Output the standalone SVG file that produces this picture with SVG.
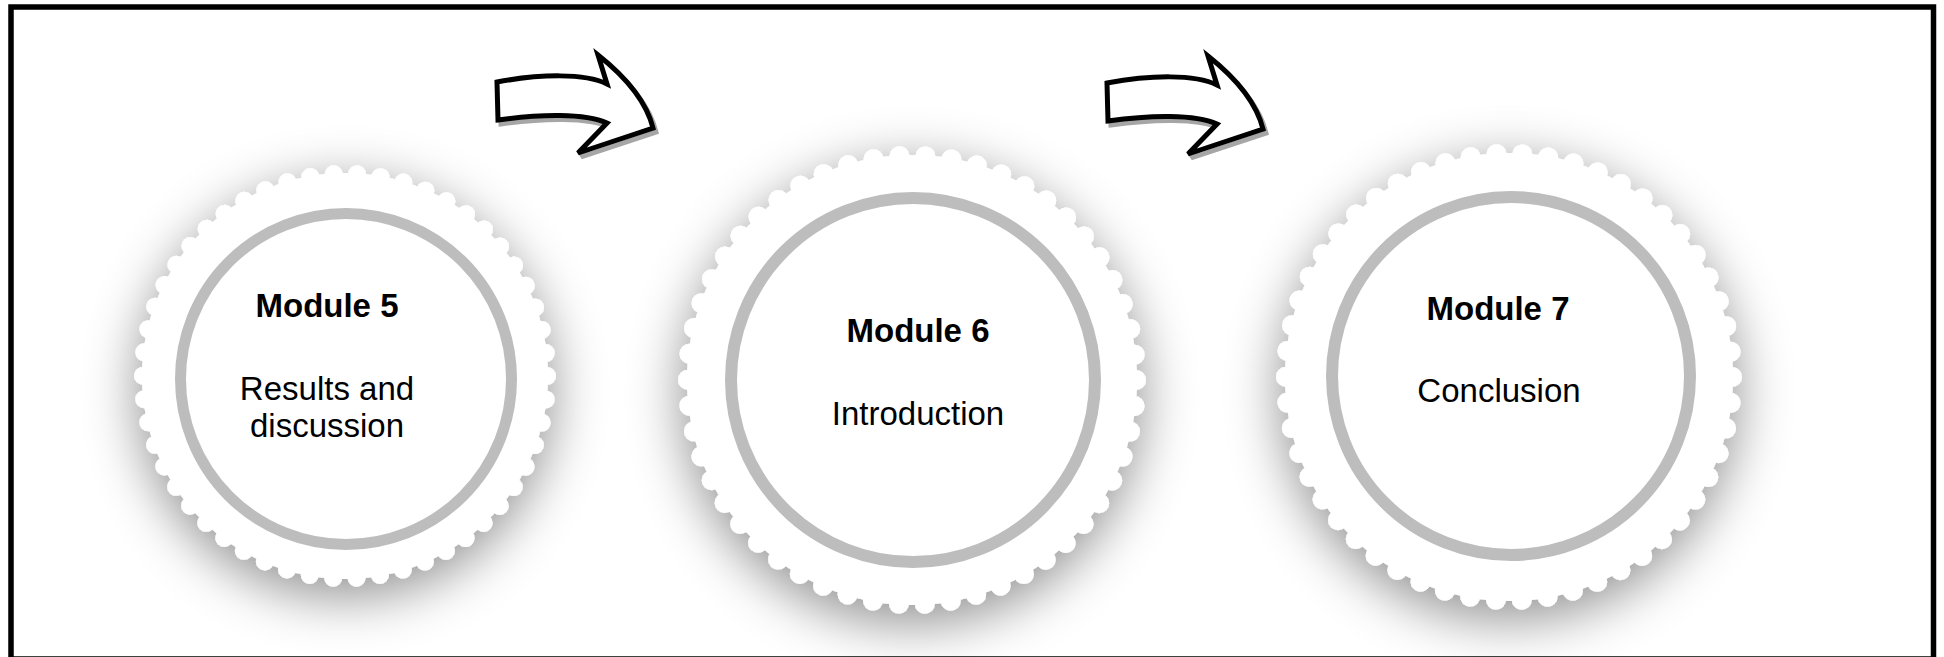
<svg xmlns="http://www.w3.org/2000/svg" width="1944" height="657" viewBox="0 0 1944 657">
<style>
.gear{fill:#ffffff}
.dots{fill:none;stroke:#ffffff;stroke-linecap:round}
.ring{fill:#ffffff;stroke:#bdbdbd}
.title{font-family:"Liberation Sans",Arial,sans-serif;font-size:33px;font-weight:bold;fill:#000;text-anchor:middle}
.label{font-family:"Liberation Sans",Arial,sans-serif;font-size:33px;fill:#000;text-anchor:middle}
.arrow{fill:#ffffff;stroke:#000;stroke-width:5;stroke-linejoin:miter}
.arrowsh{fill:none;stroke:#a6a6a6;stroke-width:5}
</style>
<defs>
<filter id="sh" x="-50%" y="-50%" width="200%" height="200%">
<feGaussianBlur in="SourceAlpha" stdDeviation="26"/>
<feOffset dx="0" dy="14" result="b"/>
<feFlood flood-color="#000" flood-opacity="0.42"/>
<feComposite in2="b" operator="in"/>
<feMerge><feMergeNode/><feMergeNode in="SourceGraphic"/></feMerge>
</filter>
<path id="arrow" d="M497,82 C540,74 585,73 607,84 L598,55 C622,74 646,100 653,128 L578,153 L607,123 C585,113 540,114 498,120 Z"/>
</defs>
<rect x="0" y="0" width="1944" height="657" fill="#ffffff"/>
<rect x="11" y="7" width="1922.5" height="652" fill="none" stroke="#000" stroke-width="5.5"/>
<g id="node-module5">
<g filter="url(#sh)">
<circle class="gear" cx="345" cy="376" r="203"/>
<circle class="dots" cx="345" cy="376" r="202" stroke-width="18" stroke-dasharray="0 23.504"/>
</g>
<circle class="ring" cx="346" cy="379" r="165.5" stroke-width="11"/>
<text class="title" x="327" y="317">Module 5</text>
<text class="label" x="327" y="400">Results and</text>
<text class="label" x="327" y="437">discussion</text>
</g>
<g id="node-module6">
<g filter="url(#sh)">
<circle class="gear" cx="912" cy="380" r="225"/>
<circle class="dots" cx="912" cy="380" r="224" stroke-width="20" stroke-dasharray="0 26.064"/>
</g>
<circle class="ring" cx="913" cy="380" r="182" stroke-width="12"/>
<text class="title" x="918" y="342">Module 6</text>
<text class="label" x="918" y="425">Introduction</text>
</g>
<g id="node-module7">
<g filter="url(#sh)">
<circle class="gear" cx="1509" cy="377" r="224"/>
<circle class="dots" cx="1509" cy="377" r="223" stroke-width="20" stroke-dasharray="0 25.947"/>
</g>
<circle class="ring" cx="1511" cy="376" r="179" stroke-width="12"/>
<text class="title" x="1498" y="320">Module 7</text>
<text class="label" x="1499" y="402">Conclusion</text>
</g>
<g id="connectors">
<use href="#arrow" class="arrowsh" transform="translate(3,4)"/>
<use href="#arrow" class="arrow"/>
<use href="#arrow" class="arrowsh" transform="translate(613,5)"/>
<use href="#arrow" class="arrow" transform="translate(610,1)"/>
</g>
</svg>
